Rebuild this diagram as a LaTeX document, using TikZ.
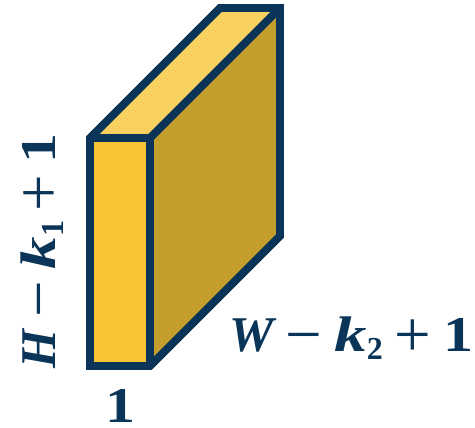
\documentclass[tikz,border=0pt]{standalone}
\usepackage{fontspec}
\setmainfont{Liberation Serif}
\definecolor{navy}{HTML}{0A3558}
\definecolor{frontc}{HTML}{F8C435}
\definecolor{topc}{HTML}{F8D060}
\definecolor{sidec}{HTML}{C49E2C}
\newcommand{\bi}[1]{{\bfseries\itshape #1}}
\newcommand{\bo}[1]{\scalebox{1.2}[1]{\bfseries #1}}
\newcommand{\kk}{\scalebox{1.3}[1]{\bfseries\itshape k}}
\newcommand{\subs}[1]{\raisebox{-8pt}{\fontsize{32}{32}\selectfont\bfseries #1}}
\newcommand{\op}[1]{\hspace{12pt}\raisebox{-4.5pt}{\scalebox{1.3}{#1}}\hspace{12pt}}
\tikzset{
  face/.style={draw=navy,line width=7.8pt,line join=miter,miter limit=10},
  lab/.style={text=navy,inner sep=0pt,font=\fontsize{50}{50}\selectfont}
}
\begin{document}
\begin{tikzpicture}[x=1pt,y=-1pt]
\useasboundingbox (0,0) rectangle (475,428);
\coordinate (fa) at (90,138);
\coordinate (fb) at (150,138);
\coordinate (fc) at (150,366);
\coordinate (fd) at (90,366);
\coordinate (ba) at (220,8);
\coordinate (bb) at (280,8);
\coordinate (bc) at (280,236);
\fill[topc] (fa) -- (ba) -- (bb) -- (fb) -- cycle;
\fill[sidec] (fb) -- (bb) -- (bc) -- (fc) -- cycle;
\fill[frontc] (fa) -- (fb) -- (fc) -- (fd) -- cycle;
\draw[face] (fa) -- (ba) -- (bb) -- (bc) -- (fc) -- (fd) -- cycle;
\draw[face] (fa) -- (fb) -- (fc);
\draw[face] (fb) -- (bb);
\node[lab,anchor=base west,rotate=90] (hlabel) at (56,369) {\bi{H}\op{−}\kk\subs{1}\hspace{-3pt}\op{+}\bo{1}};
\node[lab,anchor=base west] (wlabel) at (229,352) {\bi{W}\op{−}\kk\subs{2}\op{+}\bo{1}};
\node[lab,anchor=base] (onelabel) at (120,422) {\bo{1}};
\end{tikzpicture}
\end{document}
